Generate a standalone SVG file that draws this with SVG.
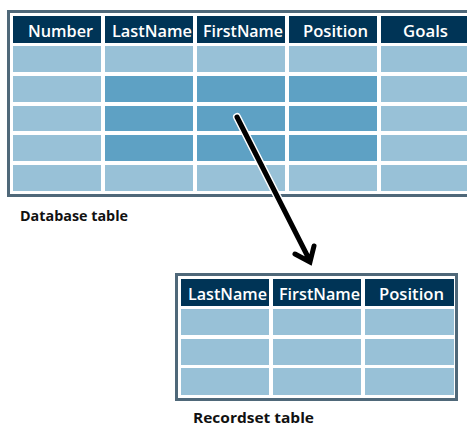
<svg xmlns="http://www.w3.org/2000/svg" width="467" height="427" viewBox="0 0 467 427">
<style>
.frame{fill:#ffffff;stroke:#4f6879;stroke-width:3}
.hd{fill:#003456}
.lt{fill:#98c1d7}
.dk{fill:#5ea1c4}
.ht{font-family:"Open Sans","Liberation Sans",sans-serif;font-weight:600;font-size:16px;fill:#ffffff}
.cap{font-family:"Open Sans","Liberation Sans",sans-serif;font-weight:700;font-size:14.5px;fill:#111111}
</style>
<g id="database-table">
<rect class="frame" x="8.5" y="11.5" width="470" height="184"/>
<rect class="hd" x="13" y="16" width="88" height="27"/>
<rect class="hd" x="105" y="16" width="88" height="27"/>
<rect class="hd" x="197" y="16" width="88" height="27"/>
<rect class="hd" x="289" y="16" width="88" height="27"/>
<rect class="hd" x="381" y="16" width="90" height="27"/>
<text class="ht" x="28" y="37" textLength="65" lengthAdjust="spacingAndGlyphs">Number</text>
<text class="ht" x="112" y="37" textLength="80" lengthAdjust="spacingAndGlyphs">LastName</text>
<text class="ht" x="203" y="37" textLength="80" lengthAdjust="spacingAndGlyphs">FirstName</text>
<text class="ht" x="303" y="37" textLength="65" lengthAdjust="spacingAndGlyphs">Position</text>
<text class="ht" x="403" y="37" textLength="45" lengthAdjust="spacingAndGlyphs">Goals</text>
<rect class="lt" x="13" y="46" width="88" height="26"/>
<rect class="lt" x="105" y="46" width="88" height="26"/>
<rect class="lt" x="197" y="46" width="88" height="26"/>
<rect class="lt" x="289" y="46" width="88" height="26"/>
<rect class="lt" x="381" y="46" width="90" height="26"/>
<rect class="lt" x="13" y="76" width="88" height="26"/>
<rect class="dk" x="105" y="76" width="88" height="26"/>
<rect class="dk" x="197" y="76" width="88" height="26"/>
<rect class="dk" x="289" y="76" width="88" height="26"/>
<rect class="lt" x="381" y="76" width="90" height="26"/>
<rect class="lt" x="13" y="106" width="88" height="25"/>
<rect class="dk" x="105" y="106" width="88" height="25"/>
<rect class="dk" x="197" y="106" width="88" height="25"/>
<rect class="dk" x="289" y="106" width="88" height="25"/>
<rect class="lt" x="381" y="106" width="90" height="25"/>
<rect class="lt" x="13" y="135" width="88" height="26"/>
<rect class="dk" x="105" y="135" width="88" height="26"/>
<rect class="dk" x="197" y="135" width="88" height="26"/>
<rect class="dk" x="289" y="135" width="88" height="26"/>
<rect class="lt" x="381" y="135" width="90" height="26"/>
<rect class="lt" x="13" y="165" width="88" height="26"/>
<rect class="lt" x="105" y="165" width="88" height="26"/>
<rect class="lt" x="197" y="165" width="88" height="26"/>
<rect class="lt" x="289" y="165" width="88" height="26"/>
<rect class="lt" x="381" y="165" width="90" height="26"/>
</g>
<g id="database-label">
<text class="cap" x="20" y="221" textLength="108" lengthAdjust="spacingAndGlyphs">Database table</text>
</g>
<g id="recordset-table">
<rect class="frame" x="176.5" y="274.5" width="280" height="125"/>
<rect class="hd" x="181" y="279" width="88" height="27"/>
<rect class="hd" x="273" y="279" width="88" height="27"/>
<rect class="hd" x="365" y="279" width="89" height="27"/>
<text class="ht" x="188" y="300" textLength="79" lengthAdjust="spacingAndGlyphs">LastName</text>
<text class="ht" x="279" y="300" textLength="81" lengthAdjust="spacingAndGlyphs">FirstName</text>
<text class="ht" x="379" y="300" textLength="65" lengthAdjust="spacingAndGlyphs">Position</text>
<rect class="lt" x="181" y="309" width="88" height="26"/>
<rect class="lt" x="273" y="309" width="88" height="26"/>
<rect class="lt" x="365" y="309" width="89" height="26"/>
<rect class="lt" x="181" y="339" width="88" height="26"/>
<rect class="lt" x="273" y="339" width="88" height="26"/>
<rect class="lt" x="365" y="339" width="89" height="26"/>
<rect class="lt" x="181" y="368" width="88" height="27"/>
<rect class="lt" x="273" y="368" width="88" height="27"/>
<rect class="lt" x="365" y="368" width="89" height="27"/>
</g>
<g id="recordset-label">
<text class="cap" x="193" y="423" textLength="121" lengthAdjust="spacingAndGlyphs">Recordset table</text>
</g>
<g id="connectors">
<path d="M237,117 L309,259 M295,254 L310,262 L314,246" fill="none" stroke="#ffffff" stroke-width="8" stroke-linecap="round" stroke-linejoin="miter"/>
<path d="M237,117 L309,259 M295,254 L310,262 L314,246" fill="none" stroke="#000000" stroke-width="5" stroke-linecap="round" stroke-linejoin="miter"/>
</g>
</svg>
